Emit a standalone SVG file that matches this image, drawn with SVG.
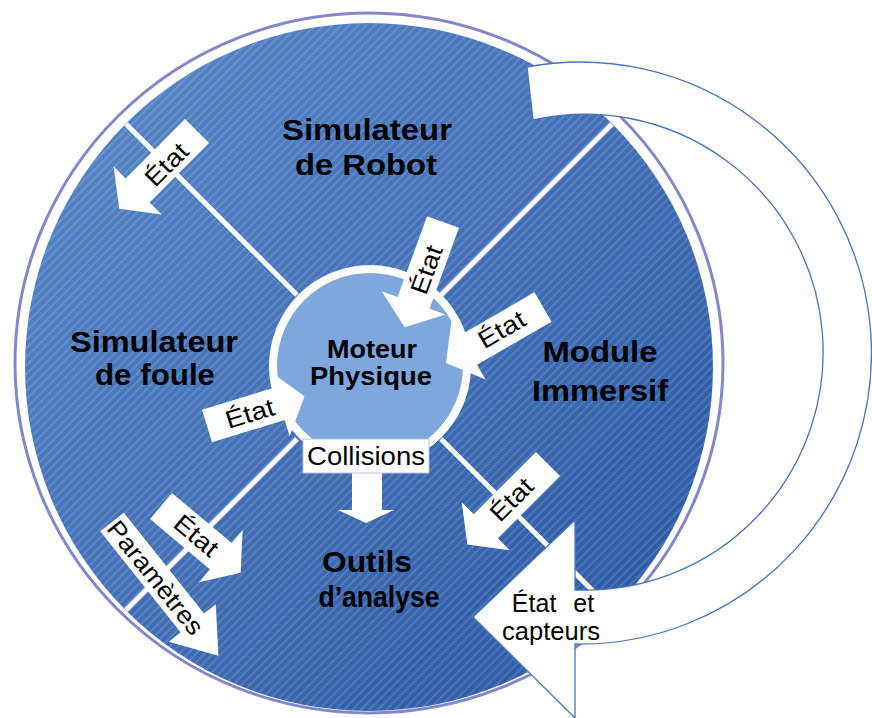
<svg xmlns="http://www.w3.org/2000/svg" width="872" height="718" viewBox="0 0 872 718">
<defs>
<linearGradient id="diskGrad" x1="0" y1="0" x2="1" y2="1">
<stop offset="0" stop-color="#5a8ac9"/>
<stop offset="1" stop-color="#2654a1"/>
</linearGradient>
<pattern id="hatch" width="6" height="6" patternUnits="userSpaceOnUse" patternTransform="rotate(45)">
<line x1="1" y1="0" x2="1" y2="6" stroke="#ffffff" stroke-opacity="0.28" stroke-width="1"/>
</pattern>
<style>
.title{font-family:"Liberation Sans",Arial,sans-serif;font-weight:bold;font-size:30px;fill:#000;text-anchor:middle}
.core{font-family:"Liberation Sans",Arial,sans-serif;font-weight:bold;font-size:25px;fill:#000;text-anchor:middle}
.lbl{font-family:"Liberation Sans",Arial,sans-serif;font-size:25px;fill:#000;text-anchor:middle}
.arrow{fill:#ffffff;stroke:none}
.divider{stroke:#ffffff;stroke-width:5}
.big{fill:#ffffff;stroke:#4a74b8;stroke-width:1.3}
</style>
</defs>
<rect x="0" y="0" width="872" height="718" fill="#ffffff"/>
<g id="cycle">
<ellipse cx="369" cy="363" rx="354" ry="350" fill="none" stroke="#8487c7" stroke-width="3"/>
<circle cx="369" cy="367" r="344" fill="url(#diskGrad)"/>
<circle cx="369" cy="367" r="344" fill="url(#hatch)"/>
<line class="divider" x1="297" y1="295" x2="126" y2="124"/>
<line class="divider" x1="441" y1="295" x2="612" y2="124"/>
<line class="divider" x1="297" y1="439" x2="126" y2="610"/>
<line class="divider" x1="441" y1="439" x2="612" y2="610"/>
</g>
<g id="moteur-physique">
<circle cx="370" cy="366" r="101" fill="#ffffff"/>
<circle cx="370" cy="366" r="93" fill="#7ea8dd"/>
<text class="core" x="372" y="358" textLength="90" lengthAdjust="spacingAndGlyphs">Moteur</text>
<text class="core" x="371" y="385" textLength="122" lengthAdjust="spacingAndGlyphs">Physique</text>
</g>
<g id="simulateur-robot">
<text class="title" x="367" y="140" textLength="170" lengthAdjust="spacingAndGlyphs">Simulateur</text>
<text class="title" x="366" y="175" textLength="142" lengthAdjust="spacingAndGlyphs">de Robot</text>
</g>
<g id="simulateur-foule">
<text class="title" x="154" y="352" textLength="168" lengthAdjust="spacingAndGlyphs">Simulateur</text>
<text class="title" x="155" y="385" textLength="120" lengthAdjust="spacingAndGlyphs">de foule</text>
</g>
<g id="module-immersif">
<text class="title" x="600" y="362" textLength="115" lengthAdjust="spacingAndGlyphs">Module</text>
<text class="title" x="600" y="401" textLength="136" lengthAdjust="spacingAndGlyphs">Immersif</text>
</g>
<g id="outils-analyse">
<text class="title" x="367" y="572" textLength="90" lengthAdjust="spacingAndGlyphs">Outils</text>
<text class="title" x="379" y="607" textLength="121" lengthAdjust="spacingAndGlyphs">d’analyse</text>
</g>
<g id="connectors">
<path class="arrow" transform="translate(197,131) rotate(135)" d="M0,-17 H84 V-34 L110,0 L84,34 V17 H0 Z"/>
<text class="lbl" transform="translate(167,165) rotate(-45)" y="8" textLength="50" lengthAdjust="spacingAndGlyphs">État</text>
<path class="arrow" transform="translate(443,222) rotate(110)" d="M0,-17 H86 V-34 L112,0 L86,34 V17 H0 Z"/>
<text class="lbl" transform="translate(427,270) rotate(-70)" y="8" textLength="50" lengthAdjust="spacingAndGlyphs">État</text>
<path class="arrow" transform="translate(543,307) rotate(150)" d="M0,-17 H86 V-34 L112,0 L86,34 V17 H0 Z"/>
<text class="lbl" transform="translate(502,330) rotate(-30)" y="8" textLength="50" lengthAdjust="spacingAndGlyphs">État</text>
<path class="arrow" transform="translate(207,426) rotate(-17)" d="M0,-17 H76 V-34 L102,0 L76,34 V17 H0 Z"/>
<text class="lbl" transform="translate(250,414) rotate(-17)" y="8" textLength="50" lengthAdjust="spacingAndGlyphs">État</text>
<path class="arrow" transform="translate(161,506) rotate(40)" d="M0,-17 H78 V-34 L104,0 L78,34 V17 H0 Z"/>
<text class="lbl" transform="translate(196,536) rotate(40)" y="8" textLength="50" lengthAdjust="spacingAndGlyphs">État</text>
<path class="arrow" transform="translate(548,464) rotate(135)" d="M0,-17 H88 V-34 L114,0 L88,34 V17 H0 Z"/>
<text class="lbl" transform="translate(512,500) rotate(-45)" y="8" textLength="50" lengthAdjust="spacingAndGlyphs">État</text>
<path class="arrow" transform="translate(112,522) rotate(51.5)" d="M0,-15 H129 V-30 L171,0 L129,30 V15 H0 Z"/>
<text class="lbl" transform="translate(155,578) rotate(51.5)" y="8" textLength="138" lengthAdjust="spacingAndGlyphs">Paramètres</text>
<path class="arrow" d="M352,440 H382 V510 H394 L366,523 L338,510 H352 Z"/>
<rect x="303" y="439" width="126" height="34" fill="#ffffff" stroke="#b8c4d8" stroke-width="1"/>
<text class="lbl" x="366" y="465" textLength="118" lengthAdjust="spacingAndGlyphs">Collisions</text>
<path class="big" d="M527,67 A291,291 0 1 1 575,644 L575,718 L473,617 L575,520 L575,590 A238,238 0 1 0 533,120 Z"/>
<text class="lbl" x="553" y="612" word-spacing="10">État et</text>
<text class="lbl" x="551" y="640" textLength="98" lengthAdjust="spacingAndGlyphs">capteurs</text>
</g>
</svg>
